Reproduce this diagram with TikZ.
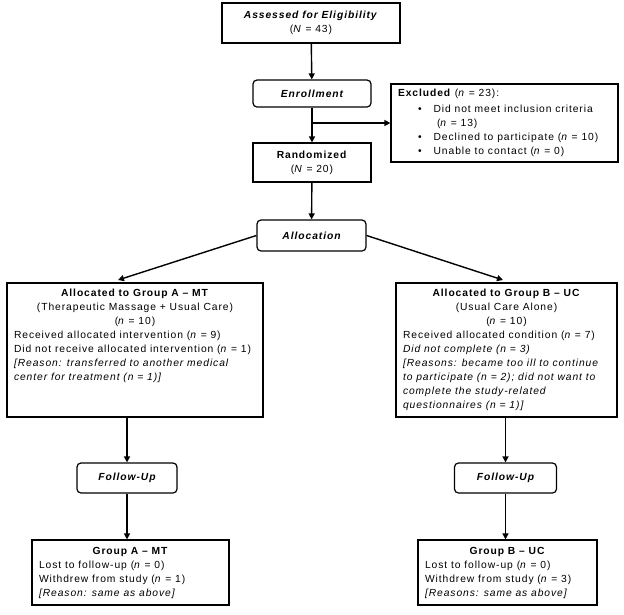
\documentclass[tikz,border=0pt]{standalone}
\usepackage{fontspec}
\setmainfont{Liberation Sans}[LetterSpace=9]
\usetikzlibrary{arrows.meta}
\usetikzlibrary{positioning}

\begin{document}
\begin{tikzpicture}[x=1pt,y=-1pt,semithick,font=\fontsize{10.3}{14}\selectfont]
		\tikzstyle{box}=[draw, line width=1.2pt, inner xsep=7pt, inner ysep=0pt, align=center]
		\tikzstyle{stage}=[box, rounded corners=4pt, font=\fontsize{10.3}{14}\selectfont\bfseries\itshape]
		\tikzstyle{flow}=[line width=1.4pt, -{Triangle[length=6pt,width=6pt]}]
		\useasboundingbox (0,0) rectangle (624,614);
			\node[box, minimum width=178, minimum height=40] (assess) at (311,23)
				{\textbf{\textit{Assessed for Eligibility}}\\(\textit{N} = 43)};
			\node[stage, minimum width=118, minimum height=27] (enroll) at (312,93.5) {Enrollment};
			\node[box, align=left] (excl) at (504.5,123)
				{\parbox[c][78pt][c]{213pt}{\textbf{Excluded} (\textit{n} = 23):\\[2pt]
				\hspace*{20pt}\textbullet\hspace{12pt}Did not meet inclusion criteria\\
				\hspace*{39pt}(\textit{n} = 13)\\
				\hspace*{20pt}\textbullet\hspace{12pt}Declined to participate (\textit{n} = 10)\\
				\hspace*{20pt}\textbullet\hspace{12pt}Unable to contact (\textit{n} = 0)}};
			\node[box, minimum width=118, minimum height=39] (rand) at (312,162.5)
				{\textbf{Randomized}\\(\textit{N} = 20)};
			\node[stage, minimum width=109, minimum height=31] (alloc) at (311.5,235.5) {Allocation};
			\node[box] (grpA) at (135,350)
				{\parbox[c][134pt][t]{242pt}{\vspace{6pt}{\centering\textbf{Allocated to Group A -- MT}\\
				(Therapeutic Massage + Usual Care)\\(\textit{n} = 10)\par}
				Received allocated intervention (\textit{n} = 9)\\
				Did not receive allocated intervention (\textit{n} = 1)\\
				\textit{[Reason: transferred to another medical}\\
				\textit{center for treatment (n = 1)]}}};
			\node[box] (grpB) at (506.5,350)
				{\parbox[c][134pt][t]{207pt}{\vspace{6pt}{\centering\textbf{Allocated to Group B -- UC}\\
				(Usual Care Alone)\\(\textit{n} = 10)\par}
				Received allocated condition (\textit{n} = 7)\\
				\textit{Did not complete (n = 3)}\\
				\textit{[Reasons: became too ill to continue}\\
				\textit{to participate (n = 2); did not want to}\\
				\textit{complete the study-related}\\
				\textit{questionnaires (n = 1)]}}};
			\node[stage, minimum width=100, minimum height=30] (followA) at (127,478) {Follow-Up};
			\node[stage, minimum width=102, minimum height=30] (followB) at (505.5,478) {Follow-Up};
			\node[box] (finA) at (130.5,572.5)
				{\parbox[c][65pt][c]{183pt}{{\centering\textbf{Group A -- MT}\par}
				Lost to follow-up (\textit{n} = 0)\\
				Withdrew from study (\textit{n} = 1)\\
				\textit{[Reason: same as above]}}};
			\node[box] (finB) at (507.5,572.5)
				{\parbox[c][65pt][c]{165pt}{{\centering\textbf{Group B -- UC}\par}
				Lost to follow-up (\textit{n} = 0)\\
				Withdrew from study (\textit{n} = 3)\\
				\textit{[Reasons: same as above]}}};

			\coordinate (split) at (enroll.south |- excl.west);
			\coordinate (endA) at (118,280);
			\coordinate (endB) at (503,280);
			\draw[flow] (assess) -- (enroll);
			\draw[flow] (enroll) -- (rand);
			\draw[flow] (split) -- (excl.west);
			\draw[flow] (rand) -- (alloc);
			\draw[flow] (alloc.west) -- (endA);
			\draw[flow] (alloc.east) -- (endB);
			\draw[flow] (grpA.south -| followA) -- (followA);
			\draw[flow] (followA) -- (finA.north -| followA);
			\draw[flow] (grpB.south -| followB) -- (followB);
			\draw[flow] (followB) -- (finB.north -| followB);
\end{tikzpicture}
\end{document}
